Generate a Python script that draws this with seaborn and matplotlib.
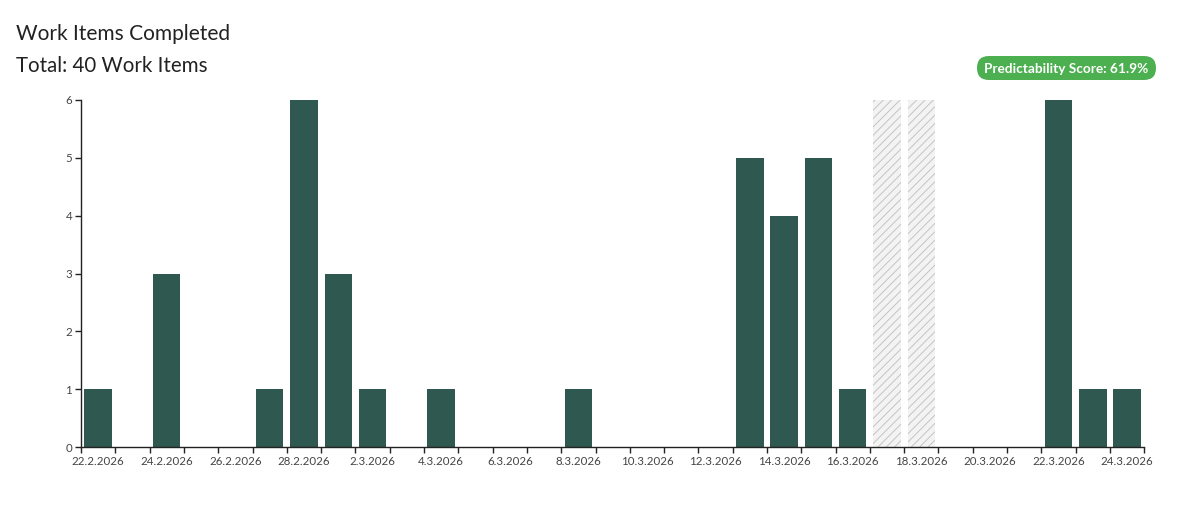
import matplotlib
matplotlib.use("Agg")
import matplotlib.pyplot as plt
from matplotlib.patches import FancyBboxPatch
import pandas as pd
import seaborn as sns

dates = ["22.2.2026", "23.2.2026", "24.2.2026", "25.2.2026", "26.2.2026", "27.2.2026", "28.2.2026",
         "1.3.2026", "2.3.2026", "3.3.2026", "4.3.2026", "5.3.2026", "6.3.2026", "7.3.2026",
         "8.3.2026", "9.3.2026", "10.3.2026", "11.3.2026", "12.3.2026", "13.3.2026", "14.3.2026",
         "15.3.2026", "16.3.2026", "17.3.2026", "18.3.2026", "19.3.2026", "20.3.2026", "21.3.2026",
         "22.3.2026", "23.3.2026", "24.3.2026"]
completed = [1, 0, 3, 0, 0, 1, 6, 3, 1, 0, 1, 0, 0, 0, 1, 0, 0, 0, 0, 5, 4, 5, 1, 0, 0, 0, 0, 0, 6, 1, 1]
excluded = [0, 0, 0, 0, 0, 0, 0, 0, 0, 0, 0, 0, 0, 0, 0, 0, 0, 0, 0, 0, 0, 0, 0, 6, 6, 0, 0, 0, 0, 0, 0]
y_ticks = [0, 1, 2, 3, 4, 5, 6]
title_text = "Work Items Completed"
total_text = "Total: 40 Work Items"
score_text = "Predictability Score: 61.9%"

W, H = 1180, 516
sns.set_theme(style="white")
plt.rcParams["font.family"] = ["Lato", "DejaVu Sans"]
plt.rcParams["hatch.linewidth"] = 0.7

df = pd.DataFrame({"date": dates, "completed": completed, "excluded": excluded})

fig = plt.figure(figsize=(W / 100, H / 100), dpi=100, facecolor="white")
ax = fig.add_axes([81 / W, 1 - 447 / H, (1144.3 - 81) / W, (447 - 100) / H])

sns.barplot(data=df, x="date", y="excluded", order=dates, color="#f3f3f3", saturation=1,
            width=0.8, hatch="////", edgecolor="#c4c4c4", linewidth=0, ax=ax)
sns.barplot(data=df, x="date", y="completed", order=dates, color="#2f5850", saturation=1,
            width=0.8, edgecolor="none", linewidth=0, ax=ax)

ax.set_xlim(-0.5, len(dates) - 0.5)
ax.set_ylim(0, 6)
ax.set_xlabel("")
ax.set_ylabel("")

# ticks sit on the band edges, labels on every second band centre
ax.set_xticks([i - 0.5 for i in range(len(dates) + 1)])
ax.set_xticklabels([])
ax.set_xticks(list(range(0, len(dates), 2)), minor=True)
ax.set_xticklabels(dates[::2], minor=True)
ax.set_yticks(y_ticks)
ax.set_yticklabels([str(v) for v in y_ticks])

ax.tick_params(axis="x", which="major", length=4.4, width=1, color="#222222", bottom=True)
ax.tick_params(axis="x", which="minor", length=0, pad=6.4, labelsize=8.3, labelcolor="#444444", bottom=False)
ax.tick_params(axis="y", which="major", length=4.4, width=1, color="#222222", left=True,
               pad=2, labelsize=8.3, labelcolor="#444444")

for side in ("top", "right"):
    ax.spines[side].set_visible(False)
for side in ("left", "bottom"):
    ax.spines[side].set_color("#222222")
    ax.spines[side].set_linewidth(1)

fig.text(16 / W, 1 - 34 / H, title_text, fontsize=15, color="#222222", va="center", ha="left")
fig.text(16 / W, 1 - 66 / H, total_text, fontsize=14.8, color="#222222", va="center", ha="left")

pill = FancyBboxPatch((989, H - 68), 155, 0, boxstyle="round,pad=12,rounding_size=12",
                      transform=None, facecolor="#4caf50", edgecolor="none")
fig.add_artist(pill)
fig.text(1066.5 / W, 1 - 69 / H, score_text, fontsize=9.8, fontweight="bold", color="white",
         va="center", ha="center")

fig.savefig("out.png", dpi=100, facecolor="white")
